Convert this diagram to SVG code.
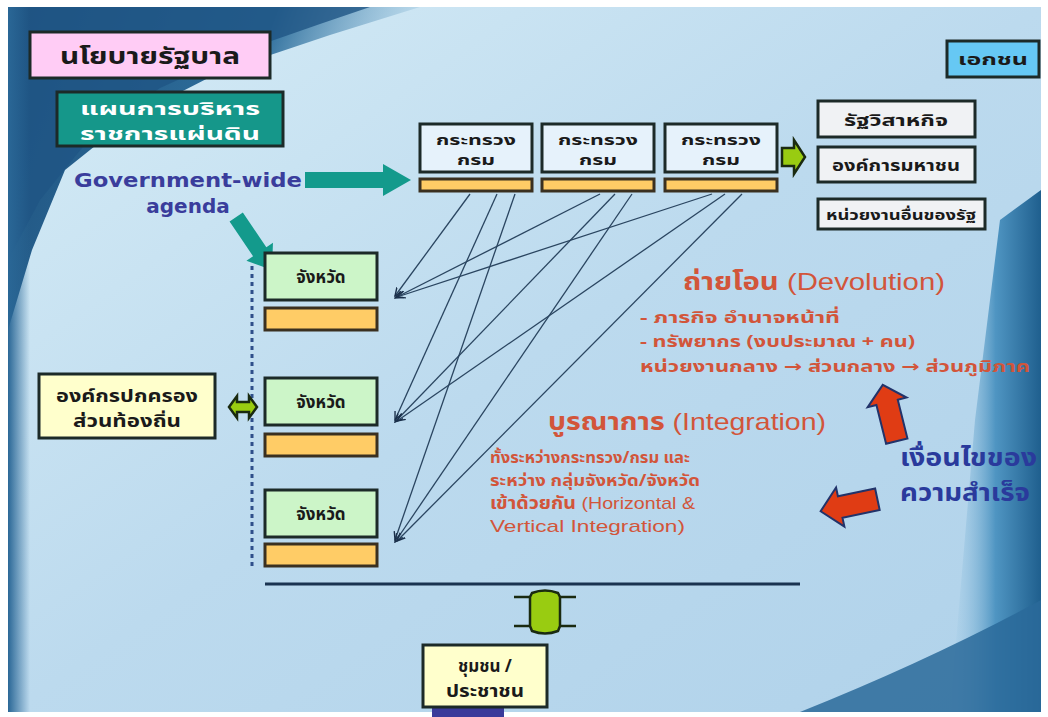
<svg xmlns="http://www.w3.org/2000/svg" width="1048" height="717" viewBox="0 0 1048 717">
<defs>
<linearGradient id="bg" x1="0" y1="0" x2="1" y2="1">
<stop offset="0" stop-color="#d6ecf6"/>
<stop offset="0.5" stop-color="#bcdaee"/>
<stop offset="1" stop-color="#b0d2ea"/>
</linearGradient>
<linearGradient id="dk" x1="0" y1="0" x2="1" y2="0.3">
<stop offset="0" stop-color="#1d4f7c"/>
<stop offset="0.6" stop-color="#2f6f9c"/>
<stop offset="1" stop-color="#7fb3d4" stop-opacity="0"/>
</linearGradient>
<linearGradient id="rs" x1="0" y1="0" x2="1" y2="0">
<stop offset="0" stop-color="#9cc8e4" stop-opacity="0"/>
<stop offset="0.5" stop-color="#4f95c2"/>
<stop offset="1" stop-color="#1f5f8e"/>
</linearGradient>
<linearGradient id="ls" x1="0" y1="0" x2="1" y2="0">
<stop offset="0" stop-color="#2a6796"/>
<stop offset="1" stop-color="#2a6796" stop-opacity="0"/>
</linearGradient>
<marker id="ah" viewBox="0 0 10 10" refX="9" refY="5" markerWidth="7" markerHeight="7" orient="auto">
<path d="M0,1 L9,5 L0,9" fill="none" stroke="#1a2f4a" stroke-width="1.5"/>
</marker>
<style>
.th{font-family:"Noto Sans Thai","Loma","Garuda","Tlwg Typo","DejaVu Sans","Noto Sans",sans-serif;font-weight:bold}
.box{stroke:#1c2a28;stroke-width:3}
.bar{fill:#ffcc66;stroke:#3a3020;stroke-width:3}
.min{fill:#e6f2fb}
.jw{fill:#ccf5c8}
.conn line{stroke:#2a4560;stroke-width:1.3;marker-end:url(#ah)}
.red{fill:#d2553a}
.grn{fill:#99cc11;stroke:#1a2a10;stroke-width:2.5}
.teal{fill:#139a8c}
.rarr{fill:#e03c14;stroke:#22336a;stroke-width:2}
.mt{font-size:14px;fill:#1a1a1a}
.jt{font-size:17px;fill:#1a1a1a}
</style>
</defs>
<rect width="1048" height="717" fill="#ffffff"/>
<g id="background">
<rect x="8" y="7" width="1033" height="705" fill="url(#bg)"/>
<polygon points="8,7 420,7 330,35 220,72 130,118 65,170 32,250 8,330" fill="url(#dk)"/>
<polygon points="8,7 370,7 320,24 240,52 160,88 90,138 40,200 8,260" fill="#1f5584" opacity="0.8"/>
<rect x="8" y="7" width="22" height="705" fill="url(#ls)"/>
<polygon points="1000,220 1041,190 1041,712 950,712 975,420" fill="url(#rs)"/>
<path d="M 800,712 Q 930,660 1041,600 L 1041,712 Z" fill="#2a6a9a" opacity="0.85"/>
</g>
<g id="connectors" class="conn">
<line x1="470" y1="194" x2="395" y2="296"/>
<line x1="497" y1="194" x2="395" y2="420"/>
<line x1="515" y1="194" x2="395" y2="540"/>
<line x1="600" y1="194" x2="395" y2="298"/>
<line x1="615" y1="194" x2="395" y2="422"/>
<line x1="632" y1="194" x2="395" y2="542"/>
<line x1="712" y1="194" x2="397" y2="297"/>
<line x1="725" y1="194" x2="397" y2="421"/>
<line x1="742" y1="194" x2="397" y2="541"/>
</g>
<g id="n-policy">
<rect class="box" x="30" y="32" width="240" height="46" fill="#ffccf5"/>
<text class="th" x="150" y="64" font-size="23" text-anchor="middle" fill="#1a1a1a" textLength="180" lengthAdjust="spacingAndGlyphs">นโยบายรัฐบาล</text>
</g>
<g id="n-plan">
<rect class="box" x="57" y="92" width="226" height="54" fill="#15978a"/>
<text class="th" x="170" y="115" font-size="18" text-anchor="middle" fill="#ffffff" textLength="180" lengthAdjust="spacingAndGlyphs">แผนการบริหาร</text>
<text class="th" x="170" y="140" font-size="18" text-anchor="middle" fill="#ffffff" textLength="180" lengthAdjust="spacingAndGlyphs">ราชการแผ่นดิน</text>
</g>
<g id="n-agenda">
<text x="188" y="187" font-family="Verdana,'DejaVu Sans',sans-serif" font-weight="bold" font-size="20" text-anchor="middle" fill="#3a3d9c" textLength="228" lengthAdjust="spacingAndGlyphs">Government-wide</text>
<text x="188" y="213" font-family="Verdana,'DejaVu Sans',sans-serif" font-weight="bold" font-size="20" text-anchor="middle" fill="#3a3d9c">agenda</text>
</g>
<g id="arrow-agenda-right">
<polygon class="teal" points="305,172 383,172 383,164 411,180 383,196 383,188 305,188"/>
</g>
<g id="arrow-agenda-down">
<polygon class="teal" transform="translate(272,270) rotate(56)" points="-64,-8 -22,-8 -22,-16 0,0 -22,16 -22,8 -64,8"/>
</g>
<g id="n-ministry1">
<rect class="box min" x="420" y="124" width="112" height="48"/>
<rect class="bar" x="420" y="179" width="112" height="12"/>
<text class="th mt" x="476" y="145" text-anchor="middle" textLength="80" lengthAdjust="spacingAndGlyphs">กระทรวง</text>
<text class="th mt" x="476" y="165" text-anchor="middle" textLength="38" lengthAdjust="spacingAndGlyphs">กรม</text>
</g>
<g id="n-ministry2">
<rect class="box min" x="542" y="124" width="112" height="48"/>
<rect class="bar" x="542" y="179" width="112" height="12"/>
<text class="th mt" x="598" y="145" text-anchor="middle" textLength="80" lengthAdjust="spacingAndGlyphs">กระทรวง</text>
<text class="th mt" x="598" y="165" text-anchor="middle" textLength="38" lengthAdjust="spacingAndGlyphs">กรม</text>
</g>
<g id="n-ministry3">
<rect class="box min" x="665" y="124" width="112" height="48"/>
<rect class="bar" x="665" y="179" width="112" height="12"/>
<text class="th mt" x="721" y="145" text-anchor="middle" textLength="80" lengthAdjust="spacingAndGlyphs">กระทรวง</text>
<text class="th mt" x="721" y="165" text-anchor="middle" textLength="38" lengthAdjust="spacingAndGlyphs">กรม</text>
</g>
<g id="arrow-ministry-right">
<polygon class="grn" points="782,148 794,148 794,140 805,157 794,174 794,166 782,166"/>
</g>
<g id="n-soe">
<rect class="box" x="818" y="101" width="157" height="36" fill="#f0f2f4"/>
<text class="th" x="896" y="126" font-size="16" text-anchor="middle" fill="#1a1a1a" textLength="104" lengthAdjust="spacingAndGlyphs">รัฐวิสาหกิจ</text>
</g>
<g id="n-public-org">
<rect class="box" x="818" y="147" width="157" height="35" fill="#f0f2f4"/>
<text class="th" x="896" y="171" font-size="15" text-anchor="middle" fill="#1a1a1a" textLength="128" lengthAdjust="spacingAndGlyphs">องค์การมหาชน</text>
</g>
<g id="n-other">
<rect class="box" x="818" y="199" width="167" height="30" fill="#f0f2f4"/>
<text class="th" x="901" y="220" font-size="14" text-anchor="middle" fill="#1a1a1a" textLength="150" lengthAdjust="spacingAndGlyphs">หน่วยงานอื่นของรัฐ</text>
</g>
<g id="n-private">
<rect class="box" x="947" y="41" width="92" height="36" fill="#66c8f4"/>
<text class="th" x="993" y="65" font-size="15" text-anchor="middle" fill="#1a1a1a" textLength="70" lengthAdjust="spacingAndGlyphs">เอกชน</text>
</g>
<g id="dotted-line">
<line x1="252" y1="266" x2="252" y2="570" stroke="#2f4f8a" stroke-width="3" stroke-dasharray="4,4"/>
</g>
<g id="n-province1">
<rect class="box jw" x="265" y="253" width="112" height="47"/>
<rect class="bar" x="265" y="308" width="112" height="22"/>
<text class="th jt" x="321" y="283" text-anchor="middle">จังหวัด</text>
</g>
<g id="n-province2">
<rect class="box jw" x="265" y="378" width="112" height="47"/>
<rect class="bar" x="265" y="434" width="112" height="22"/>
<text class="th jt" x="321" y="408" text-anchor="middle">จังหวัด</text>
</g>
<g id="n-province3">
<rect class="box jw" x="265" y="490" width="112" height="47"/>
<rect class="bar" x="265" y="544" width="112" height="22"/>
<text class="th jt" x="321" y="520" text-anchor="middle">จังหวัด</text>
</g>
<g id="n-local">
<rect class="box" x="39" y="374" width="176" height="64" fill="#ffffcc"/>
<text class="th" x="127" y="402" font-size="17" text-anchor="middle" fill="#1a1a1a" textLength="142" lengthAdjust="spacingAndGlyphs">องค์กรปกครอง</text>
<text class="th" x="127" y="427" font-size="17" text-anchor="middle" fill="#1a1a1a" textLength="108" lengthAdjust="spacingAndGlyphs">ส่วนท้องถิ่น</text>
</g>
<g id="arrow-local">
<polygon class="grn" points="229,407 237,396 237,402 249,402 249,396 257,407 249,418 249,412 237,412 237,418"/>
</g>
<g id="n-devolution">
<text x="683" y="290" font-size="24" class="red" textLength="262" lengthAdjust="spacingAndGlyphs"><tspan class="th">ถ่ายโอน</tspan><tspan font-family="'Liberation Sans',Arial,sans-serif"> (Devolution)</tspan></text>
<text class="th red" x="640" y="323" font-size="16" textLength="200" lengthAdjust="spacingAndGlyphs">- ภารกิจ อำนาจหน้าที่</text>
<text class="th red" x="640" y="347" font-size="16" textLength="275" lengthAdjust="spacingAndGlyphs">- ทรัพยากร (งบประมาณ + คน)</text>
<text class="th red" x="640" y="372" font-size="16" textLength="390" lengthAdjust="spacingAndGlyphs">หน่วยงานกลาง → ส่วนกลาง → ส่วนภูมิภาค</text>
</g>
<g id="n-integration">
<text x="548" y="430" font-size="24" class="red" textLength="278" lengthAdjust="spacingAndGlyphs"><tspan class="th">บูรณาการ</tspan><tspan font-family="'Liberation Sans',Arial,sans-serif"> (Integration)</tspan></text>
<text class="th red" x="490" y="463" font-size="16" textLength="200" lengthAdjust="spacingAndGlyphs">ทั้งระหว่างกระทรวง/กรม และ</text>
<text class="th red" x="490" y="486" font-size="16" textLength="210" lengthAdjust="spacingAndGlyphs">ระหว่าง กลุ่มจังหวัด/จังหวัด</text>
<text class="red" x="490" y="509" font-size="17" font-family="'Liberation Sans',Arial,sans-serif" textLength="205" lengthAdjust="spacingAndGlyphs"><tspan class="th">เข้าด้วยกัน</tspan> (Horizontal &amp;</text>
<text class="red" x="490" y="532" font-size="17" font-family="'Liberation Sans',Arial,sans-serif" textLength="195" lengthAdjust="spacingAndGlyphs">Vertical Integration)</text>
</g>
<g id="n-success">
<text class="th" x="900" y="466" font-size="24" fill="#2a3a9c" textLength="137" lengthAdjust="spacingAndGlyphs">เงื่อนไขของ</text>
<text class="th" x="900" y="501" font-size="24" fill="#2a3a9c" textLength="130" lengthAdjust="spacingAndGlyphs">ความสำเร็จ</text>
</g>
<g id="arrow-red-up">
<polygon class="rarr" transform="translate(890,414) rotate(-14)" points="-11,28 -11,-12 -20,-12 0,-30 20,-12 11,-12 11,28"/>
</g>
<g id="arrow-red-left">
<polygon class="rarr" transform="translate(850,505) rotate(-12)" points="28,-11 -10,-11 -10,-20 -30,0 -10,20 -10,11 28,11"/>
</g>
<g id="divider">
<line x1="265" y1="584" x2="800" y2="584" stroke="#1a3350" stroke-width="3"/>
</g>
<g id="arrow-community">
<path d="M514,597 L576,597 M514,626 L576,626" fill="none" stroke="#1a2a10" stroke-width="2.5"/>
<path d="M530,597 L532,593 Q545,588 558,593 L560,597 L560,626 L558,631 Q545,636 532,631 L530,626 Z" fill="#99cc11" stroke="#1a2a10" stroke-width="2.5"/>
</g>
<g id="n-community">
<rect x="432" y="706" width="72" height="11" fill="#3a3a9a"/>
<rect class="box" x="423" y="645" width="124" height="62" fill="#ffffcc"/>
<text class="th" x="485" y="672" font-size="17" text-anchor="middle" fill="#1a1a1a">ชุมชน /</text>
<text class="th" x="485" y="697" font-size="17" text-anchor="middle" fill="#1a1a1a" textLength="78" lengthAdjust="spacingAndGlyphs">ประชาชน</text>
</g>
</svg>
